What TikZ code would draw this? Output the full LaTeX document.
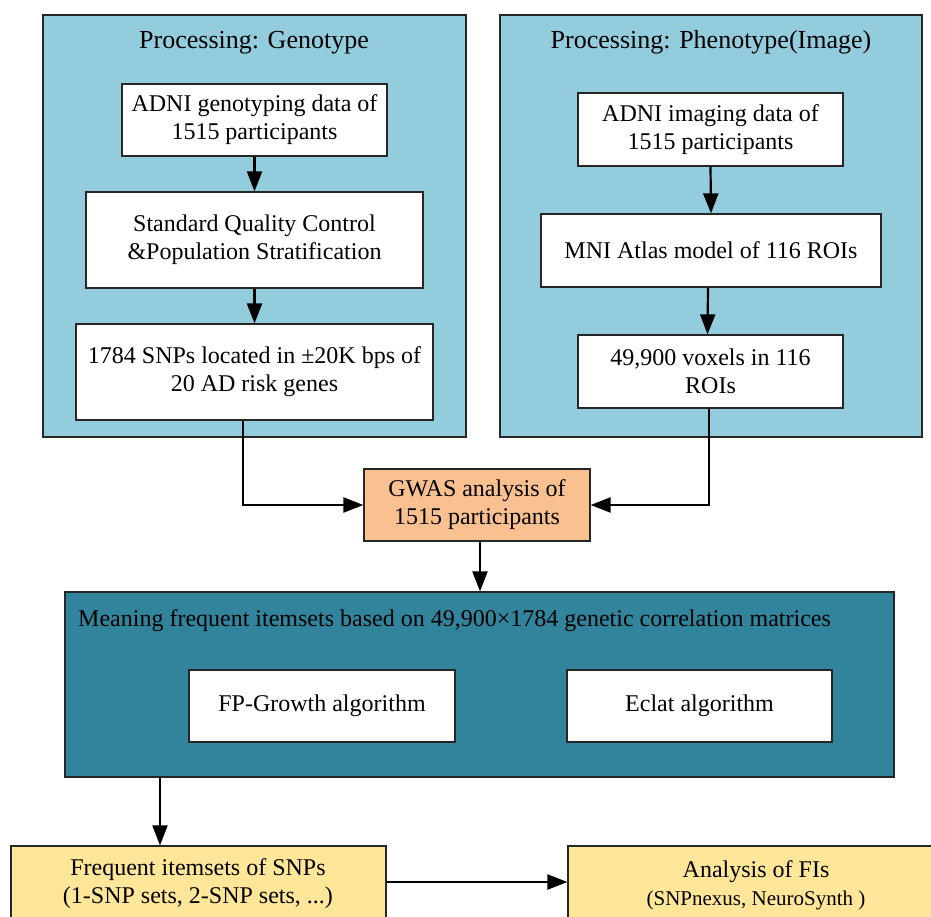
\documentclass[tikz,border=0pt]{standalone}
\usepackage{fontspec}
\setmainfont{Liberation Serif}
\usetikzlibrary{arrows.meta}
\definecolor{panelblue}{HTML}{93CDDD}
\definecolor{tealbox}{HTML}{31849B}
\definecolor{orangebox}{HTML}{FAC090}
\definecolor{yellowbox}{HTML}{FFE699}
\tikzset{
  frame/.style={draw=black!85, line width=1.2pt},
  wbox/.style={frame, fill=white, align=center, inner sep=0pt, font=\fontsize{24}{28}\selectfont},
  lbl/.style={inner sep=0pt, align=center, font=\fontsize{24}{28}\selectfont},
  ttl/.style={inner sep=0pt, align=center, font=\fontsize{26}{30}\selectfont},
  arr/.style={line width=2.2pt, -{Triangle[length=20pt,width=15pt]}},
}
\begin{document}
\begin{tikzpicture}[x=1pt,y=-1pt]
\useasboundingbox (0,0) rectangle (931,916);
\clip (0,0) rectangle (931,916);
% panels
\node[frame, fill=panelblue, minimum width=423pt, minimum height=422pt, inner sep=0pt] (pg) at (254.5,226) {};
\node[frame, fill=panelblue, minimum width=422pt, minimum height=422pt, inner sep=0pt] (pp) at (711,226) {};
\node[ttl, anchor=base] (tg) at (254,48) {Processing: Genotype};
\node[ttl, anchor=base] (tp) at (711,48) {Processing: Phenotype(Image)};
% genotype boxes
\node[wbox, minimum width=265pt, minimum height=72pt] (g1) at (254.5,120) {ADNI genotyping data of\\1515 participants};
\node[wbox, minimum width=337pt, minimum height=96pt] (g2) at (254.5,240) {Standard Quality Control\\\&Population Stratification};
\node[wbox, minimum width=357pt, minimum height=96pt] (g3) at (254.5,372) {1784 SNPs located in ±20K bps of\\20 AD risk genes};
% phenotype boxes
\node[wbox, minimum width=265pt, minimum height=73pt] (p1) at (710.5,129.5) {ADNI imaging data of\\1515 participants};
\node[wbox, minimum width=340pt, minimum height=73pt] (p2) at (711,250.5) {MNI Atlas model of 116 ROIs};
\node[wbox, minimum width=265pt, minimum height=73pt] (p3) at (710.5,371.5) {49,900 voxels in 116\\ROIs};
% GWAS
\node[wbox, fill=orangebox, minimum width=226pt, minimum height=72pt] (gw) at (477,505) {GWAS analysis of\\1515 participants};
% teal box
\node[frame, fill=tealbox, minimum width=829pt, minimum height=185pt, inner sep=0pt] (tb) at (479.5,684.5) {};
\node[lbl, anchor=base west] (tt) at (78,626) {Meaning frequent itemsets based on 49,900×1784 genetic correlation matrices};
\node[wbox, minimum width=266pt, minimum height=72pt] (fp) at (322,706) {FP-Growth algorithm};
\node[wbox, minimum width=265pt, minimum height=72pt] (ec) at (699.5,706) {Eclat algorithm};
% bottom boxes
\node[frame, fill=yellowbox, minimum width=375pt, minimum height=100pt, inner sep=0pt] (b1) at (198.5,896) {};
\node[frame, fill=yellowbox, minimum width=380pt, minimum height=100pt, inner sep=0pt] (b2) at (758,896) {};
\node[lbl, anchor=base] (b1a) at (198,875) {Frequent itemsets of SNPs};
\node[lbl, anchor=base] (b1b) at (198,903) {(1-SNP sets, 2-SNP sets, ...)};
\node[lbl, anchor=base] (b2a) at (756,877) {Analysis of FIs};
\node[lbl, anchor=base, font=\fontsize{21}{25}\selectfont] (b2b) at (756,905) {(SNPnexus, NeuroSynth )};
% arrows
\draw[arr] (g1.south) -- (g2.north);
\draw[arr] (g2.south) -- (g3.north);
\draw[arr] (p1.south) -- (p2.north);
\draw[arr] ([xshift=-3pt]p2.south) -- ([xshift=-3pt]p3.north);
\draw[arr] ([xshift=-11.5pt]g3.south) |- (gw.west);
\draw[arr] ([xshift=-1.5pt]p3.south) |- (gw.east);
\draw[arr] ([xshift=3pt]gw.south) -- ([xshift=3pt]gw.south |- tb.north);
\draw[arr] (tb.south -| 160,0) -- (b1.north -| 160,0);
\draw[arr] (b1.east |- 0,882) -- (b2.west |- 0,882);
\end{tikzpicture}
\end{document}
